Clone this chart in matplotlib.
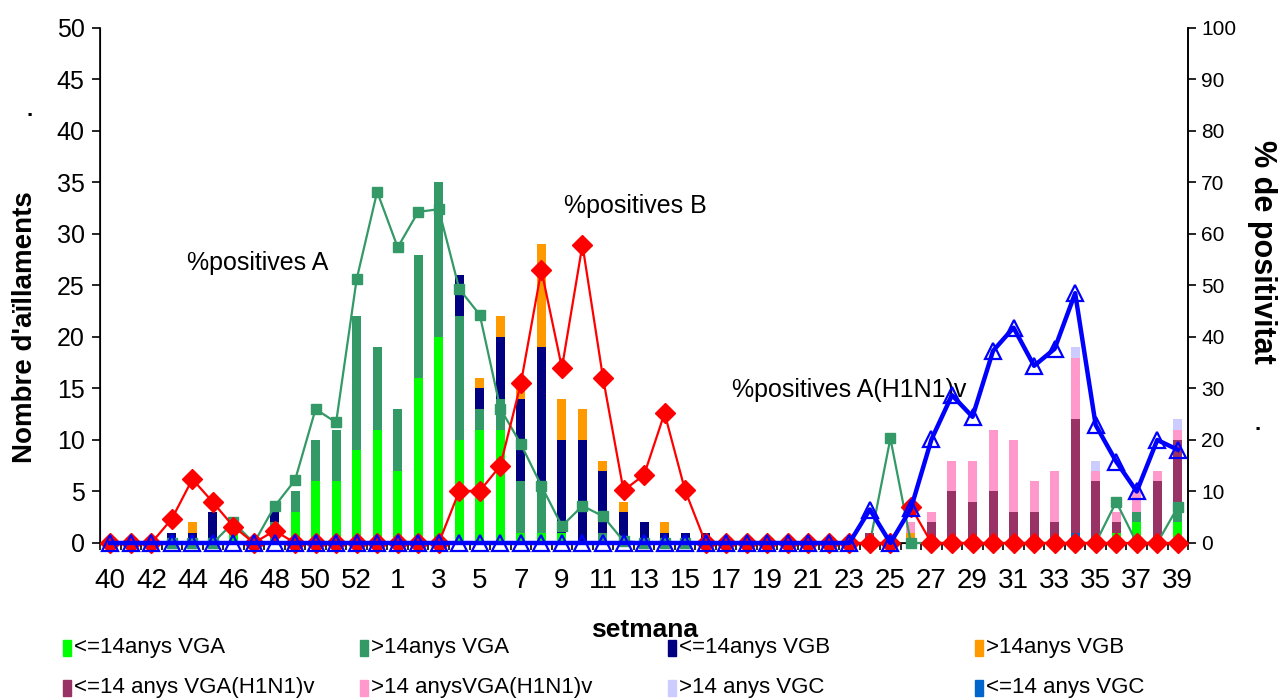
import numpy as np
import matplotlib
matplotlib.use('Agg')
import matplotlib.pyplot as plt
from matplotlib.patches import Rectangle

plt.rcParams['font.family'] = ['Liberation Sans', 'DejaVu Sans']

weeks = [str(w) for w in range(40, 54)] + [str(w) for w in range(1, 40)]

# counts per week (53 weeks: 40..53, 1..39)
vgc_le14 = [0]*47 + [1] + [0]*5
vga_le14 = [0, 0, 0, 0, 0, 0, 1, 0, 0, 3, 6, 6, 9, 11, 7, 16, 20, 10, 11, 11, 1, 1, 1, 0, 0, 0,
            0, 0, 0, 0, 0, 0, 0, 0, 0, 0, 0, 0, 0, 0, 0, 0, 0, 0, 0, 0, 0, 0, 0, 1, 2, 0, 2]
vga_gt14 = [0, 0, 0, 0, 0, 0, 0, 0, 2, 2, 4, 5, 13, 8, 6, 12, 15, 12, 2, 3, 5, 5, 0, 0, 1, 0,
            0, 0, 0, 0, 0, 0, 0, 0, 0, 0, 0, 0, 0, 0, 0, 0, 0, 0, 0, 0, 0, 0, 0, 0, 1, 0, 1]
vgb_le14 = [0, 0, 0, 1, 1, 3, 0, 0, 1, 0, 0, 0, 0, 0, 0, 0, 0, 4, 2, 6, 8, 13, 9, 10, 6, 3,
            2, 1, 1, 1, 0, 0, 0, 0, 0, 0, 0, 0, 0, 0, 0, 0, 0, 0, 0, 0, 0, 0, 0, 0, 0, 0, 0]
vgb_gt14 = [0, 0, 0, 0, 1, 0, 0, 0, 0, 0, 0, 0, 0, 0, 0, 0, 0, 0, 1, 2, 1, 10, 4, 3, 1, 1,
            0, 1, 0, 0, 0, 0, 0, 0, 0, 0, 0, 0, 0, 1, 0, 0, 0, 0, 0, 0, 0, 0, 0, 0, 0, 0, 0]
h1_le14 = [0]*37 + [1, 0, 0, 2, 5, 4, 5, 3, 3, 2, 11, 6, 1, 0, 6, 7]
h1_gt14 = [0]*37 + [0, 0, 1, 1, 3, 4, 6, 7, 3, 5, 6, 1, 1, 2, 1, 1]
vgc_gt14 = [0]*47 + [1, 1, 0, 0, 0, 1]

# % positives per week
pos_a = [0, 0, 0, 0, 0, 0, 4, 0, 7.1, 12.2, 26.0, 23.4, 51.2, 68.2, 57.4, 64.3, 64.8, 49.3, 44.3,
         26.1, 19.2, 11.1, 3.3, 7.2, 5.2, 0.4, 0, 0, 0, 0, 0, 0, 0, 0, 0, 0, 0, 0, 20.3, 0,
         0, 0, 0, 0, 0, 0, 0, 0, 0, 8.0, 0, 0, 7.0]
pos_b = [0, 0, 0, 4.7, 12.4, 7.9, 3.2, 0, 2.4, 0, 0, 0, 0, 0, 0, 0, 0, 10.1, 10.1, 15.0, 31.0,
         53.0, 34.0, 57.9, 32.1, 10.2, 13.2, 25.2, 10.2, 0, 0, 0, 0, 0, 0, 0, 0, 0, 0, 7.0,
         0, 0, 0, 0, 0, 0, 0, 0, 0, 0, 0, 0, 0]
pos_h1 = [0]*37 + [6.5, 0, 6.7, 20.1, 28.7, 24.5, 37.3, 41.8, 34.4, 37.7, 48.5, 22.9, 15.8,
                   10.0, 20.0, 18.1]

bar_series = [
    ('<=14 anys VGC', vgc_le14, '#0066CC'),
    ('<=14anys VGA', vga_le14, '#00FF00'),
    ('>14anys VGA', vga_gt14, '#339966'),
    ('<=14anys VGB', vgb_le14, '#000080'),
    ('>14anys VGB', vgb_gt14, '#FF9900'),
    ('<=14 anys VGA(H1N1)v', h1_le14, '#993366'),
    ('>14 anysVGA(H1N1)v', h1_gt14, '#FF99CC'),
    ('>14 anys VGC', vgc_gt14, '#CCCCFF'),
]
legend_order = ['<=14anys VGA', '>14anys VGA', '<=14anys VGB', '>14anys VGB',
                '<=14 anys VGA(H1N1)v', '>14 anysVGA(H1N1)v', '>14 anys VGC', '<=14 anys VGC']

x = np.arange(len(weeks))
W, H = 1279, 699

fig = plt.figure(figsize=(12.79, 6.99), dpi=100)
ax = fig.add_axes([0.0782, 0.2232, 0.8507, 0.7368])

bottom = np.zeros(len(weeks))
for name, vals, col in bar_series:
    vals = np.array(vals, dtype=float)
    ax.bar(x, vals, width=0.44, bottom=bottom, color=col, linewidth=0, zorder=2)
    bottom += vals

ax.set_xlim(-0.5, len(weeks) - 0.5)
ax.set_ylim(0, 50)
ax.set_yticks(range(0, 51, 5))
ax.tick_params(axis='y', labelsize=18, length=6, width=1.2, pad=5)
ax.set_xticks(x[::2])
ax.set_xticklabels(weeks[::2], fontsize=20)
ax.set_xticks(np.arange(-0.5, len(weeks), 1), minor=True)
ax.tick_params(axis='x', which='major', length=0, pad=18)
ax.tick_params(axis='x', which='minor', length=5, width=1.2, direction='out')
ax.spines['top'].set_visible(False)
for s in ['left', 'right', 'bottom']:
    ax.spines[s].set_linewidth(1.2)

ax2 = ax.twinx()
ax2.set_ylim(0, 100)
ax2.set_yticks(range(0, 101, 10))
ax2.tick_params(axis='y', labelsize=15, length=6, width=1.2)
ax2.spines['top'].set_visible(False)
ax2.spines['right'].set_linewidth(1.2)

ax2.plot(x, pos_a, color='#339966', lw=1.6, marker='s', ms=7.5, mfc='#339966', mec='#339966',
         clip_on=False, zorder=3)
ax2.plot(x, pos_b, color='#FF0000', lw=1.6, marker='D', ms=10.5, mfc='#FF0000', mec='#FF0000',
         clip_on=False, zorder=4)
ax2.plot(x, pos_h1, color='#0000FF', lw=3.2, marker='^', ms=12, mfc='none', mec='#0000FF',
         mew=1.6, clip_on=False, zorder=5)

ax.text(7.2, 27.2, '%positives A', fontsize=18, ha='center', va='center')
ax.text(25.6, 32.7, '%positives B', fontsize=18, ha='center', va='center')
ax.text(36.0, 14.9, '%positives A(H1N1)v', fontsize=18, ha='center', va='center')

fig.text(25 / W, 1 - 327 / H, "Nombre d'a\u00efllaments", fontsize=20, fontweight='bold',
         rotation=90, ha='center', va='center')
fig.text(1262 / W, 1 - 252 / H, '% de positivitat', fontsize=22, fontweight='bold',
         rotation=270, ha='center', va='center')
fig.text(645 / W, 1 - 630 / H, 'setmana', fontsize=19, fontweight='bold', ha='center', va='center')
fig.text(30 / W, 1 - 110 / H, '.', fontsize=16, fontweight='bold', ha='center', va='center')
fig.text(1258 / W, 1 - 424 / H, '.', fontsize=16, fontweight='bold', ha='center', va='center')

# legend laid out like the original, 4 columns x 2 rows
colors = {name: col for name, vals, col in bar_series}
col_x = [63, 360, 668, 975]
row_y = [648, 688]
for k, name in enumerate(legend_order):
    px = col_x[k % 4]
    py = row_y[k // 4]
    fig.patches.append(Rectangle((px / W, 1 - (py + 8) / H), 8 / W, 16 / H,
                                 transform=fig.transFigure, color=colors[name]))
    fig.text((px + 11) / W, 1 - py / H, name, fontsize=16, ha='left', va='center')

fig.savefig('out.png', dpi=100)
